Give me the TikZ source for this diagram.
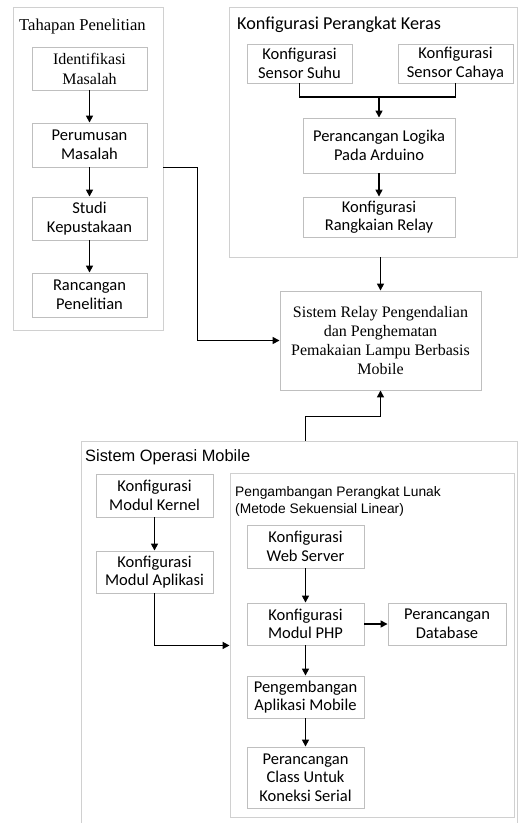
\documentclass[tikz,border=0pt]{standalone}
\usepackage{fontspec}
\setmainfont{Carlito}
\newfontfamily\timesfont{Liberation Serif}
\newfontfamily\arialfont{Liberation Sans}
\usepackage{tikz}
\usetikzlibrary{arrows.meta,positioning,calc}
\definecolor{boxgray}{RGB}{191,191,191}
\definecolor{framegray}{RGB}{208,208,208}

\begin{document}
\begin{tikzpicture}[x=1pt,y=-1pt,
  frame/.style={draw=framegray,line width=0.9pt,inner sep=0pt},
  box/.style={draw=boxgray,line width=0.9pt,align=center,inner sep=0pt,font=\fontsize{16.5}{18.5}\selectfont},
  ttl/.style={anchor=west,inner sep=0pt},
  arr/.style={line width=1.5pt,-{Triangle[length=7pt,width=7pt]}},
  line/.style={line width=1.5pt},
]
  \useasboundingbox (0,0) rectangle (518,823);

  % containers
  \node[frame,minimum width=150pt,minimum height=323pt] (tahapan) at (88,168.5) {};
  \node[frame,minimum width=288pt,minimum height=250pt] (keras) at (373,132) {};
  \node[frame,minimum width=436pt,minimum height=389pt] (os) at (299,635.5) {};
  \node[frame,minimum width=284pt,minimum height=344pt] (lunak) at (372,645) {};

  \node[ttl,font=\timesfont\fontsize{16.6}{18}\selectfont] (ttahapan) at (19,27) {Tahapan Penelitian};
  \node[ttl,font=\fontsize{18.2}{20}\selectfont] (tkeras) at (237,25) {Konfigurasi Perangkat Keras};
  \node[ttl,font=\arialfont\fontsize{16.4}{18}\selectfont] (tos) at (85,457) {Sistem Operasi Mobile};
  \node[ttl,font=\arialfont\fontsize{13.8}{17}\selectfont,align=left] (tlunak) at (235,501.5)
    {Pengambangan Perangkat Lunak\\(Metode Sekuensial Linear)};

  % tahapan penelitian
  \node[box,minimum width=115pt,minimum height=43pt,font=\timesfont\fontsize{16}{20}\selectfont]
    (identifikasi) at (89.5,68.5) {Identifikasi\\Masalah};
  \node[box,minimum width=115pt,minimum height=44pt] (perumusan) at (89.5,145) {Perumusan\\Masalah};
  \node[box,minimum width=115pt,minimum height=43pt] (studi) at (89.5,218.5) {Studi\\Kepustakaan};
  \node[box,minimum width=115pt,minimum height=44pt] (rancangan) at (89.5,295) {Rancangan\\Penelitian};

  % perangkat keras
  \node[box,minimum width=105pt,minimum height=39pt] (suhu) at (299.5,63.5) {Konfigurasi\\Sensor Suhu};
  \node[box,minimum width=115pt,minimum height=39pt] (cahaya) at (455.5,63.5) {Konfigurasi\\Sensor Cahaya};
  \node[box,minimum width=152pt,minimum height=55pt] (logika) at (379,145.5) {Perancangan Logika\\Pada Arduino};
  \node[box,minimum width=152pt,minimum height=40pt] (relaycfg) at (379,217) {Konfigurasi\\Rangkaian Relay};
  \coordinate (join) at (379,97);

  % sistem utama
  \node[box,minimum width=201pt,minimum height=99pt,font=\timesfont\fontsize{16}{19}\selectfont]
    (relay) at (380.5,340.5) {Sistem Relay Pengendalian\\dan Penghematan\\Pemakaian Lampu Berbasis\\Mobile};

  % sistem operasi mobile
  \node[box,minimum width=117pt,minimum height=43pt] (kernel) at (154.5,495.5) {Konfigurasi\\Modul Kernel};
  \node[box,minimum width=117pt,minimum height=42pt] (aplikasi) at (154.5,572) {Konfigurasi\\Modul Aplikasi};
  \node[box,minimum width=117pt,minimum height=43pt] (web) at (305.5,546.5) {Konfigurasi\\Web Server};
  \node[box,minimum width=117pt,minimum height=42pt] (php) at (305.5,624) {Konfigurasi\\Modul PHP};
  \node[box,minimum width=118pt,minimum height=42pt] (database) at (447,624) {Perancangan\\Database};
  \node[box,minimum width=117pt,minimum height=42pt] (mobileapp) at (305.5,697) {Pengembangan\\Aplikasi Mobile};
  \node[box,minimum width=117pt,minimum height=61pt] (class) at (305.5,777.5) {Perancangan\\Class Untuk\\Koneksi Serial};

  % connectors
  \foreach \a/\b in {identifikasi/perumusan,perumusan/studi,studi/rancangan,logika/relaycfg,
                     kernel/aplikasi,web/php,php/mobileapp,mobileapp/class}
    \draw[arr] (\a.south) -- (\b.north);
  \draw[line] (suhu.south) |- (join) -| (cahaya.south);
  \draw[arr] (join) -- (logika.north);
  \draw[arr] (relay.north |- keras.south) -- (relay.north);
  \draw[arr] (tahapan.east |- perumusan.south) -- ++(34,0) |- (relay.west);
  \draw[arr] (web.north |- os.north) -- ++(0,-24) -| (relay.south);
  \draw[arr] (aplikasi.south) |- (lunak.west |- php.south);
  \draw[arr] (php.east) -- (database.west);
\end{tikzpicture}
\end{document}
